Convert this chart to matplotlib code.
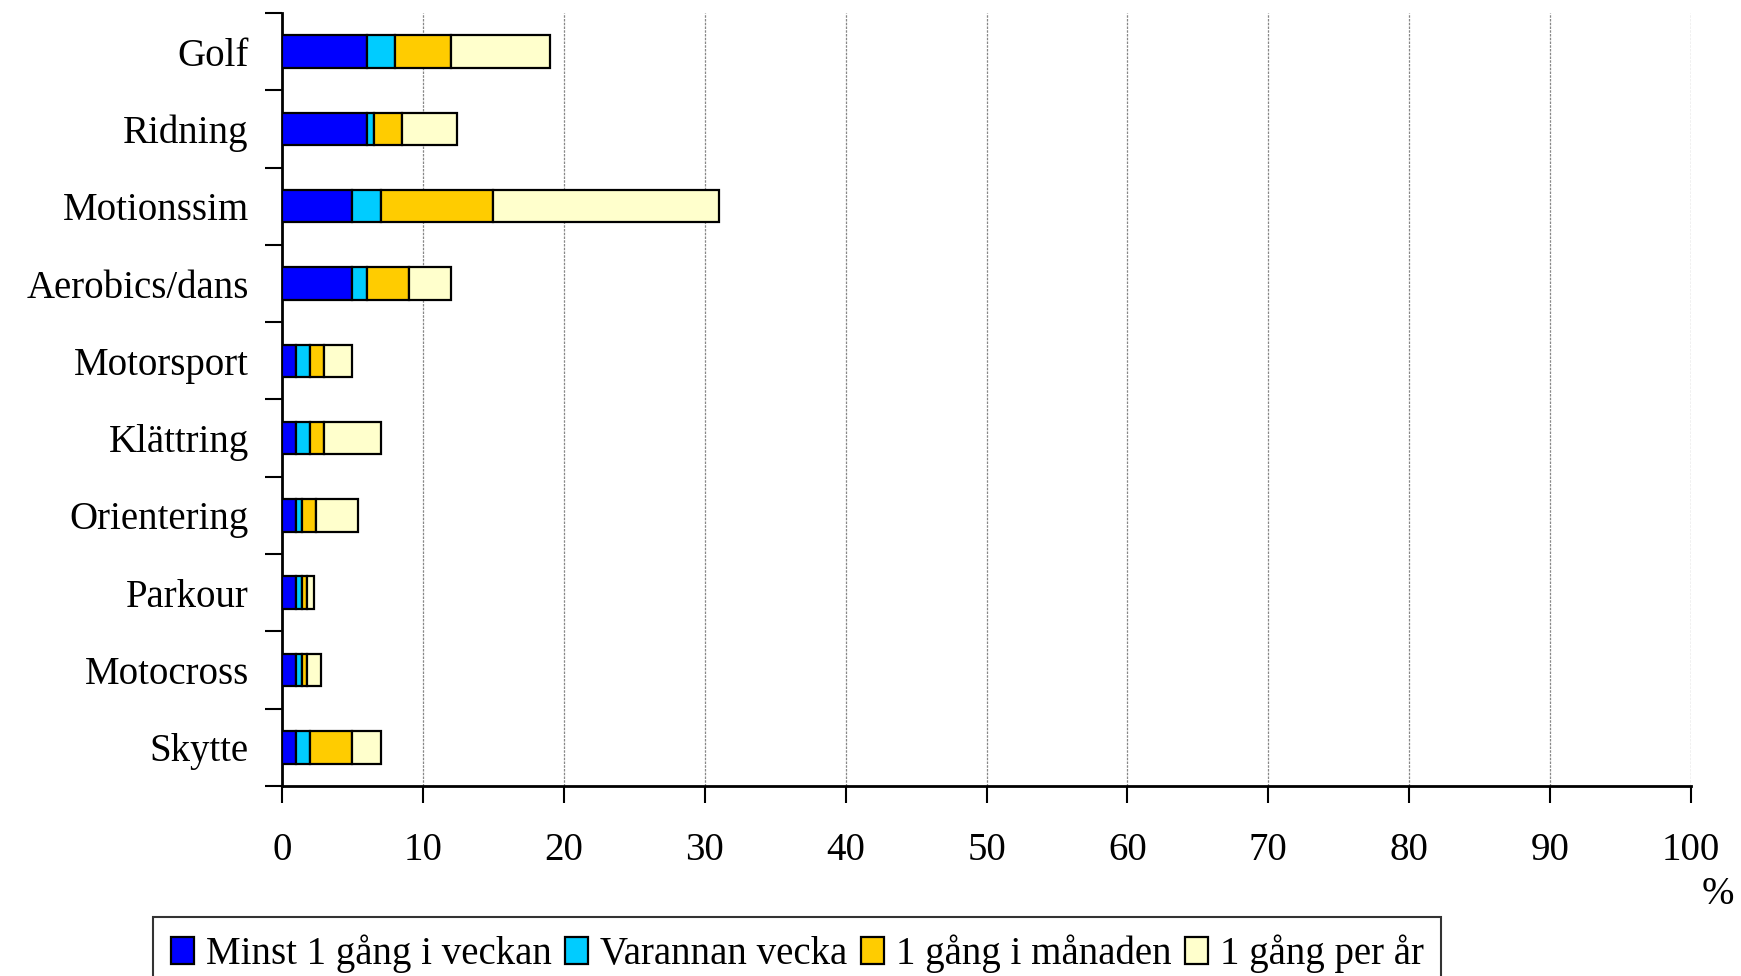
import numpy as np
import matplotlib.pyplot as plt

# sports, listed top to bottom as in the chart
sports = ["Golf", "Ridning", "Motionssim", "Aerobics/dans", "Motorsport",
          "Klättring", "Orientering", "Parkour", "Motocross", "Skytte"]

# percent of respondents per frequency
weekly = [6, 6, 5, 5, 1, 1, 1, 1, 1, 1]
biweekly = [2, 0.5, 2, 1, 1, 1, 0.4, 0.4, 0.4, 1]
monthly = [4, 2, 8, 3, 1, 1, 1, 0.4, 0.4, 3]
yearly = [7, 3.9, 16, 3, 2, 4, 3, 0.5, 1, 2]

series_labels = ["Minst 1 gång i veckan", "Varannan vecka",
                 "1 gång i månaden", "1 gång per år"]
colors = ["#0000FF", "#00CCFF", "#FFCC00", "#FFFFCC"]

xticks = list(range(0, 101, 10))


def main():
    plt.rcParams["font.family"] = ["Liberation Serif", "DejaVu Serif"]

    fig = plt.figure(figsize=(17.41, 9.76), dpi=100)
    ax = fig.add_axes([0.162, 0.1947, 0.8093, 0.792])

    y = np.arange(len(sports))
    left = np.zeros(len(sports))
    for vals, lab, col in zip([weekly, biweekly, monthly, yearly], series_labels, colors):
        ax.barh(y, vals, left=left, height=0.42, color=col, edgecolor="black",
                linewidth=1.6, label=lab, zorder=3)
        left += np.array(vals)

    ax.set_xlim(0, 100)
    ax.set_ylim(len(sports) - 0.5, -0.5)

    # y ticks sit on the category boundaries, labels are centred on the bars
    ax.set_yticks(np.arange(-0.5, len(sports), 1.0))
    ax.set_yticklabels([])
    ax.set_yticks(y, minor=True)
    ax.set_yticklabels(sports, minor=True, fontsize=28)
    ax.tick_params(axis="y", which="minor", length=0, pad=24)
    ax.tick_params(axis="y", which="major", length=12, width=1.5, direction="out")

    ax.set_xticks(xticks)
    ax.set_xticklabels([str(t) for t in xticks], fontsize=28)
    ax.tick_params(axis="x", length=12, width=1.5, direction="out", pad=21)

    for x in xticks[1:]:
        ax.axvline(x, color="#888888", linestyle=(0, (2, 1)), linewidth=0.9, zorder=1)

    ax.spines["top"].set_visible(False)
    ax.spines["right"].set_visible(False)
    ax.spines["left"].set_linewidth(2)
    ax.spines["bottom"].set_linewidth(2)

    fig.text(0.996, 0.084, "%", fontsize=28, ha="right", va="center")

    leg = fig.legend(loc="upper left", bbox_to_anchor=(0.0879, 0.0604), ncol=4,
                     fontsize=28, frameon=True, fancybox=False, edgecolor="black",
                     handlelength=0.6, handleheight=0.7, handletextpad=0.3,
                     columnspacing=0.35, borderpad=0.45, borderaxespad=0)
    leg.get_frame().set_linewidth(1.5)

    fig.savefig("out.png", dpi=100)
    plt.close(fig)


if __name__ == "__main__":
    main()
